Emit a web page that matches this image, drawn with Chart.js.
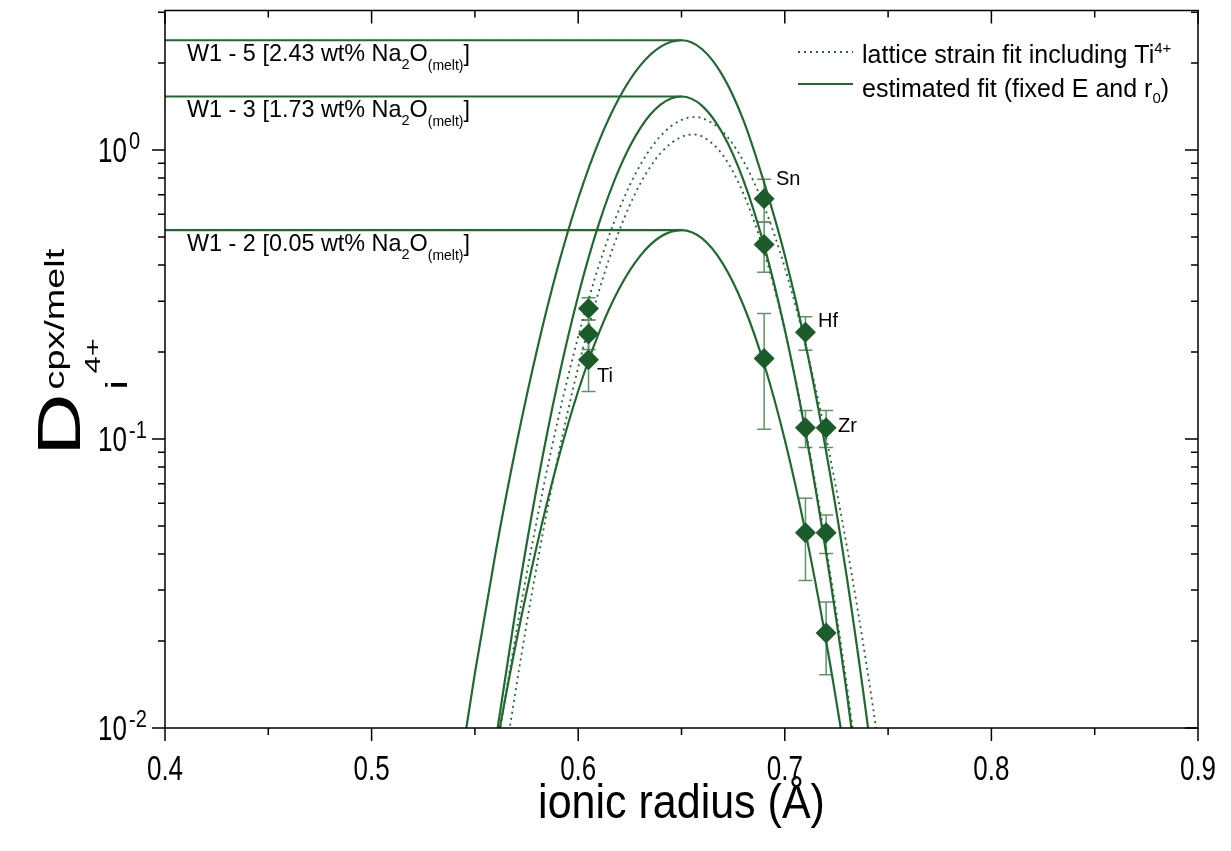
<!DOCTYPE html>
<html>
<head>
<meta charset="utf-8">
<script src="https://cdn.jsdelivr.net/npm/chart.js@4.4.0/dist/chart.umd.min.js"></script>
<style>
  body { margin: 0; background: #fff; }
  canvas { display: block; }
</style>
</head>
<body>
<canvas id="myChart" width="1231" height="851"></canvas>
<script>
// measured cations (ionic radius in Å)
var elements = ["Ti", "Sn", "Hf", "Zr"];
var radii = [0.605, 0.69, 0.71, 0.72];

// measured D values and errors
var dW15 = [0.283, 0.678, 0.234, 0.1095];
var eW15 = [0.025, 0.115, 0.031, 0.016];
var dW13 = [0.231, 0.471, 0.1095, 0.0474];
var eW13 = [0.027, 0.093, 0.016, 0.0072];
var dW12 = [0.188, 0.190, 0.0474, 0.0213];
var eW12 = [0.042, 0.082, 0.015, 0.006];

// estimated fits (solid)
var rW15 = [0.54, 0.55, 0.56, 0.57, 0.58, 0.59, 0.60, 0.61, 0.62, 0.63, 0.64, 0.65, 0.66, 0.67, 0.68, 0.69, 0.70, 0.71, 0.72, 0.73, 0.74, 0.75];
var fitW15 = [0.00537, 0.01548, 0.04035, 0.0951, 0.2025, 0.3904, 0.6796, 1.070, 1.523, 1.960, 2.280, 2.398, 2.233, 1.806, 1.267, 0.771, 0.4325, 0.2137, 0.09075, 0.0333, 0.0104, 0.00281];
var rW13 = [0.55, 0.56, 0.57, 0.58, 0.59, 0.60, 0.61, 0.62, 0.63, 0.64, 0.65, 0.66, 0.67, 0.68, 0.69, 0.70, 0.71, 0.72, 0.73, 0.74];
var fitW13 = [0.002687, 0.008973, 0.02638, 0.06836, 0.156, 0.3134, 0.5549, 0.8654, 1.189, 1.438, 1.532, 1.422, 1.138, 0.7852, 0.467, 0.2393, 0.1057, 0.04027, 0.01322, 0.003741];
var rW12 = rW13;
var fitW12 = [0.003128, 0.008289, 0.01983, 0.0428, 0.08342, 0.1466, 0.2326, 0.3332, 0.4305, 0.5022, 0.5286, 0.4945, 0.4046, 0.2897, 0.1815, 0.09947, 0.04771, 0.02001, 0.007342, 0.002359];

// lattice strain fits including Ti (dotted)
var rLsA = [0.55, 0.56, 0.57, 0.58, 0.59, 0.60, 0.61, 0.62, 0.63, 0.64, 0.65, 0.6564, 0.66, 0.67, 0.68, 0.69, 0.70, 0.71, 0.72, 0.73, 0.74, 0.75];
var lsA = [0.002568, 0.007834, 0.02142, 0.05245, 0.115, 0.2261, 0.398, 0.6277, 0.8866, 1.122, 1.271, 1.300, 1.290, 1.157, 0.9152, 0.638, 0.3918, 0.2122, 0.1013, 0.04261, 0.01579, 0.005162];
var rLsB = [0.55, 0.56, 0.57, 0.58, 0.59, 0.60, 0.61, 0.62, 0.63, 0.64, 0.65, 0.6556, 0.66, 0.67, 0.68, 0.69, 0.70, 0.71, 0.72, 0.73, 0.74];
var lsB = [0.001395, 0.004672, 0.01388, 0.03654, 0.08535, 0.1768, 0.3246, 0.5287, 0.7638, 0.9781, 1.111, 1.132, 1.115, 0.9605, 0.7061, 0.443, 0.2371, 0.1083, 0.04223, 0.01405, 0.003987];

// horizontal guide lines to the D0 of each estimated fit
var r0 = 0.65;
var d0 = [2.398, 1.532, 0.5286];
var sampleNames = ["W1 - 5 [2.43 wt% Na", "W1 - 3 [1.73 wt% Na", "W1 - 2 [0.05 wt% Na"];

// axes
var xMajor = [0.4, 0.5, 0.6, 0.7, 0.8, 0.9];
var xMinor = [0.45, 0.55, 0.65, 0.75, 0.85];
var yMajor = [0.01, 0.1, 1];
var yExp = ["-2", "-1", "0"];
var yMinor = [0.02, 0.03, 0.04, 0.05, 0.06, 0.07, 0.08, 0.09, 0.2, 0.3, 0.4, 0.5, 0.6, 0.7, 0.8, 0.9, 2, 3];

var green = "#1f6a2f";
var markGreen = "#1c5c2a";
var barGreen = "#5f9468";
var FONT = "'Liberation Sans', Arial, sans-serif";

function pts(xs, ys) {
  return xs.map(function (x, i) { return { x: x, y: ys[i] }; });
}

function curve(xs, ys, dotted) {
  return {
    data: pts(xs, ys),
    borderColor: green,
    borderWidth: dotted ? 1.8 : 2.2,
    borderDash: dotted ? [2, 4] : [],
    pointRadius: 0,
    fill: false,
    cubicInterpolationMode: "monotone",
    order: 2
  };
}

function markers(ys) {
  return {
    data: pts(radii, ys),
    showLine: false,
    pointStyle: "rectRot",
    pointRadius: 10.5,
    backgroundColor: markGreen,
    borderColor: markGreen,
    borderWidth: 0,
    order: 0
  };
}

var datasets = [
  markers(dW15), markers(dW13), markers(dW12),
  curve(rW15, fitW15, false), curve(rW13, fitW13, false), curve(rW12, fitW12, false),
  curve(rLsA, lsA, true), curve(rLsB, lsB, true)
];
d0.forEach(function (d) {
  datasets.push({
    data: pts([0.4, r0], [d, d]),
    borderColor: green, borderWidth: 2.2, pointRadius: 0, order: 2
  });
});

// text with sub/superscripts: parts = [text, size, dy]
function rich(ctx, parts, x, y) {
  parts.forEach(function (p) {
    ctx.font = p[1] + "px " + FONT;
    ctx.fillText(p[0], x, y + (p[2] || 0));
    x += ctx.measureText(p[0]).width;
  });
  return x;
}

// stretched text (the figure's axis text is tall and narrow)
function stext(ctx, t, x, y, size, sx, sy, align) {
  ctx.save();
  ctx.translate(x, y);
  ctx.scale(sx, sy);
  ctx.font = size + "px " + FONT;
  ctx.textAlign = align || "left";
  ctx.fillText(t, 0, 0);
  ctx.restore();
}

var decor = {
  id: "decor",
  beforeDatasetsDraw: function (chart) {
    var ctx = chart.ctx, xs = chart.scales.x, ys = chart.scales.y;
    ctx.save();
    ctx.strokeStyle = barGreen;
    ctx.lineWidth = 1.5;
    [[dW15, eW15], [dW13, eW13], [dW12, eW12]].forEach(function (s) {
      s[0].forEach(function (d, i) {
        var px = xs.getPixelForValue(radii[i]);
        var top = ys.getPixelForValue(d + s[1][i]);
        var bot = ys.getPixelForValue(d - s[1][i]);
        ctx.beginPath();
        ctx.moveTo(px, top); ctx.lineTo(px, bot);
        ctx.moveTo(px - 7, top); ctx.lineTo(px + 7, top);
        ctx.moveTo(px - 7, bot); ctx.lineTo(px + 7, bot);
        ctx.stroke();
      });
    });
    ctx.restore();
  },
  afterDraw: function (chart) {
    var ctx = chart.ctx, xs = chart.scales.x, ys = chart.scales.y;
    var a = chart.chartArea;
    ctx.save();
    ctx.strokeStyle = "#000";
    ctx.fillStyle = "#000";
    ctx.lineWidth = 1.5;
    ctx.strokeRect(a.left, a.top, a.right - a.left, a.bottom - a.top);

    ctx.beginPath();
    xMajor.forEach(function (v) {
      var px = xs.getPixelForValue(v);
      ctx.moveTo(px, a.bottom); ctx.lineTo(px, a.bottom + 13);
      ctx.moveTo(px, a.top); ctx.lineTo(px, a.top + 13);
    });
    xMinor.forEach(function (v) {
      var px = xs.getPixelForValue(v);
      ctx.moveTo(px, a.bottom); ctx.lineTo(px, a.bottom + 7);
      ctx.moveTo(px, a.top); ctx.lineTo(px, a.top + 7);
    });
    yMajor.forEach(function (v) {
      var py = ys.getPixelForValue(v);
      ctx.moveTo(a.left - 13, py); ctx.lineTo(a.left, py);
      ctx.moveTo(a.right - 13, py); ctx.lineTo(a.right, py);
    });
    yMinor.forEach(function (v) {
      var py = ys.getPixelForValue(v);
      ctx.moveTo(a.left - 7, py); ctx.lineTo(a.left, py);
      ctx.moveTo(a.right - 7, py); ctx.lineTo(a.right, py);
    });
    ctx.stroke();

    // tick labels
    ctx.textBaseline = "alphabetic";
    xMajor.forEach(function (v) {
      stext(ctx, v.toFixed(1), xs.getPixelForValue(v), a.bottom + 52, 26, 1, 1.32, "center");
    });
    yMajor.forEach(function (v, i) {
      var py = ys.getPixelForValue(v);
      stext(ctx, "10", 127, py + 12, 26, 1, 1.32, "right");
      stext(ctx, yExp[i], 129, py - 1, 20, 1, 1.2, "left");
    });

    // axis titles
    stext(ctx, "ionic radius (\u00c5)", (a.left + a.right) / 2, 818, 43, 1, 1.1, "center");
    ctx.save();
    ctx.translate(80, 456);
    ctx.rotate(-Math.PI / 2);
    ctx.scale(1.4, 1);
    ctx.textAlign = "left";
    ctx.font = "62px " + FONT;
    ctx.fillText("D", 0, 0);
    ctx.font = "27px " + FONT;
    ctx.fillText("cpx/melt", 47.5, -16);
    ctx.font = "30px " + FONT;
    ctx.fillText("i", 47.5, 47);
    ctx.font = "22px " + FONT;
    ctx.fillText("4+", 59, 20);
    ctx.restore();

    // sample labels on the D0 lines
    ctx.textAlign = "left";
    var base = [61, 117, 251];
    sampleNames.forEach(function (s, i) {
      rich(ctx, [[s, 23.4, 0], ["2", 14.5, 8], ["O", 23.4, 0], ["(melt)", 14, 9], ["]", 23.4, 0]], 187, base[i]);
    });

    // element labels
    ctx.font = "20px " + FONT;
    ctx.fillText("Ti", 597, 382);
    ctx.fillText("Sn", 776, 185);
    ctx.fillText("Hf", 818, 327);
    ctx.fillText("Zr", 838, 432);

    // legend
    ctx.strokeStyle = green;
    ctx.lineWidth = 1.8;
    ctx.setLineDash([2, 4]);
    ctx.beginPath(); ctx.moveTo(798, 52); ctx.lineTo(853, 52); ctx.stroke();
    ctx.setLineDash([]);
    ctx.lineWidth = 2.2;
    ctx.beginPath(); ctx.moveTo(798, 84); ctx.lineTo(853, 84); ctx.stroke();
    rich(ctx, [["lattice strain fit including Ti", 25, 0], ["4+", 15, -10]], 862, 63);
    rich(ctx, [["estimated fit (fixed E and r", 25, 0], ["0", 15, 6], [")", 25, 0]], 862, 97);
    ctx.restore();
  }
};

new Chart("myChart", {
  type: "line",
  data: { datasets: datasets },
  options: {
    responsive: false,
    animation: false,
    devicePixelRatio: 1,
    layout: { padding: { left: 165, right: 33, top: 4, bottom: 123 } },
    scales: {
      x: { type: "linear", min: 0.4, max: 0.9, display: false },
      y: { type: "logarithmic", min: 0.01, max: 3.04, display: false }
    },
    plugins: {
      legend: { display: false },
      tooltip: { enabled: false }
    }
  },
  plugins: [decor]
});
</script>
</body>
</html>
